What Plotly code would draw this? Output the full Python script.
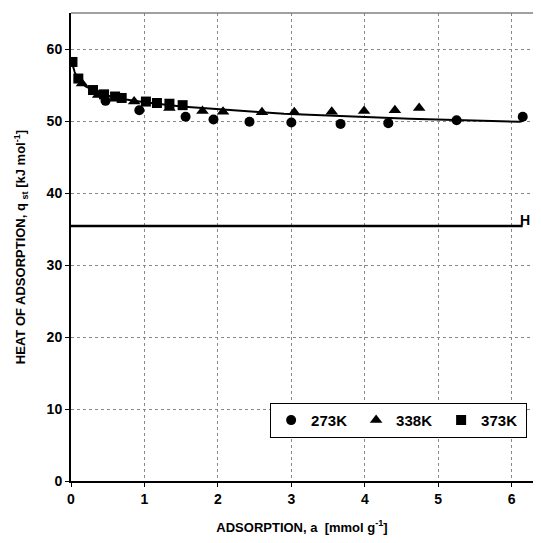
import plotly.graph_objects as go

# 273K
a_273 = [0.47, 0.93, 1.56, 1.94, 2.43, 3.00, 3.67, 4.32, 5.25, 6.15]
q_273 = [52.8, 51.5, 50.6, 50.2, 49.9, 49.8, 49.6, 49.7, 50.1, 50.6]
# 338K
a_338 = [0.15, 0.37, 0.86, 1.34, 1.79, 2.07, 2.60, 3.04, 3.55, 3.99, 4.41, 4.74]
q_338 = [55.2, 53.6, 52.7, 51.8, 51.4, 51.3, 51.2, 51.2, 51.3, 51.4, 51.5, 51.8]
# 373K
a_373 = [0.02, 0.10, 0.30, 0.45, 0.60, 0.69, 1.02, 1.17, 1.34, 1.52]
q_373 = [58.2, 55.9, 54.3, 53.7, 53.4, 53.2, 52.7, 52.5, 52.4, 52.2]
# fitted curve
a_fit = [0.0, 0.05, 0.1, 0.2, 0.3, 0.5, 0.75, 1.0, 1.5, 2.0, 2.5, 2.9, 3.34, 3.6, 3.93, 4.3, 4.61, 4.98, 5.52, 6.11, 6.15]
q_fit = [58.6, 56.8, 55.6, 54.8, 54.3, 53.5, 53.0, 52.6, 52.0, 51.6, 51.3, 51.0, 50.8, 50.7, 50.6, 50.45, 50.3, 50.2, 50.05, 49.9, 50.0]
# H line
H_a = [0.0, 6.15]
H_q = [35.4, 35.4]

FONT = "Liberation Sans, Arial, sans-serif"

fig = go.Figure()
fig.add_trace(go.Scatter(x=a_fit, y=q_fit, mode="lines", line=dict(color="black", width=2),
                         showlegend=False, hoverinfo="skip"))
fig.add_trace(go.Scatter(x=H_a, y=H_q, mode="lines", line=dict(color="black", width=2.5),
                         showlegend=False, hoverinfo="skip"))
fig.add_trace(go.Scatter(x=a_273, y=q_273, mode="markers", name="273K",
                         marker=dict(symbol="circle", size=10, color="black")))
fig.add_trace(go.Scatter(x=a_338, y=q_338, mode="markers", name="338K",
                         marker=dict(symbol="triangle-up", size=11, color="black")))
fig.add_trace(go.Scatter(x=a_373, y=q_373, mode="markers", name="373K",
                         marker=dict(symbol="square", size=10, color="black")))

fig.add_annotation(xref="paper", x=1, y=35.4, text="<b>H</b>", showarrow=False, xanchor="right",
                   yanchor="bottom", xshift=-1, yshift=-4, font=dict(family=FONT, size=14, color="black"))

fig.add_shape(type="line", xref="paper", yref="paper", x0=0, x1=1, y0=1, y1=1,
              line=dict(color="#808080", width=1.5))

fig.update_layout(
    width=525, height=527,
    margin=dict(l=63, r=0, t=5, b=54, autoexpand=False),
    paper_bgcolor="white", plot_bgcolor="white",
    font=dict(family=FONT, color="black"),
    xaxis=dict(range=[0, 6.29], tickvals=[0, 1, 2, 3, 4, 5, 6], showgrid=True,
               gridcolor="#888888", griddash="dot", gridwidth=1,
               showline=True, linecolor="black", linewidth=2,
               ticks="outside", ticklen=4, tickcolor="black",
               tickfont=dict(family=FONT, size=14, weight="bold"), zeroline=False,
               title=dict(text="<b>ADSORPTION, a  [mmol g<sup>-1</sup>]</b>",
                          font=dict(family=FONT, size=13), standoff=17)),
    yaxis=dict(range=[0, 65], tickvals=[0, 10, 20, 30, 40, 50, 60], showgrid=True,
               gridcolor="#888888", griddash="dot", gridwidth=1,
               showline=True, linecolor="black", linewidth=2,
               ticks="outside", ticklen=4, tickcolor="black",
               tickfont=dict(family=FONT, size=14, weight="bold"), zeroline=False,
               title=dict(text="<b>HEAT OF ADSORPTION, q <sub>st</sub> [kJ mol<sup>-1</sup>]</b>",
                          font=dict(family=FONT, size=13), standoff=18)),
    legend=dict(orientation="h", x=0.431, y=0.167, xanchor="left", yanchor="top",
                bordercolor="black", borderwidth=1, bgcolor="white",
                font=dict(family=FONT, size=15, weight="bold"),
                entrywidth=40, entrywidthmode="pixels", itemwidth=30),
)

fig.write_html("out.html")
